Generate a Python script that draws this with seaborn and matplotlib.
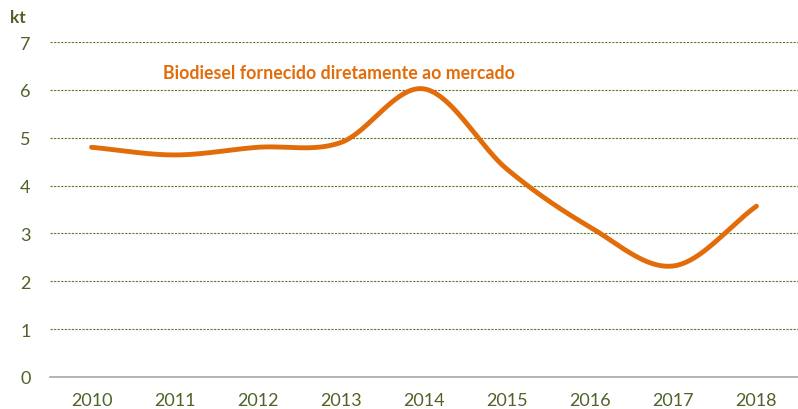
import numpy as np
import pandas as pd
import matplotlib
matplotlib.use("Agg")
import matplotlib.pyplot as plt
import seaborn as sns

years = ["2010", "2011", "2012", "2013", "2014", "2015", "2016", "2017", "2018"]
values = [4.80, 4.64, 4.80, 4.90, 6.02, 4.34, 3.13, 2.32, 3.57]
series_label = "Biodiesel fornecido diretamente ao mercado"
y_ticks = [0, 1, 2, 3, 4, 5, 6, 7]
unit = "kt"

ORANGE = "#E36C0A"
GREEN = "#4F6228"
GRID = "#5E7A2E"
AXIS = "#A6A6A6"

sns.set_theme(style="white")
plt.rcParams["font.family"] = ["Lato", "DejaVu Sans"]

def catmull_rom(xs, ys, n=40):
    xs = np.asarray(xs, float); ys = np.asarray(ys, float)
    px = np.concatenate([[2*xs[0]-xs[1]], xs, [2*xs[-1]-xs[-2]]])
    py = np.concatenate([[2*ys[0]-ys[1]], ys, [2*ys[-1]-ys[-2]]])
    ox, oy = [], []
    for i in range(1, len(px)-2):
        t = np.linspace(0, 1, n, endpoint=(i == len(px)-3))
        for P, out in ((px, ox), (py, oy)):
            p0, p1, p2, p3 = P[i-1], P[i], P[i+1], P[i+2]
            out.extend(0.5*((2*p1) + (-p0+p2)*t + (2*p0-5*p1+4*p2-p3)*t**2 + (-p0+3*p1-3*p2+p3)*t**3))
    return np.array(ox), np.array(oy)

xpos = np.arange(len(years))
sx, sy = catmull_rom(xpos, values)
df = pd.DataFrame({"x": sx, "y": sy})

fig = plt.figure(figsize=(7.98, 4.10), dpi=100)
ax = fig.add_axes([50/798, 32/410, 748/798, 335/410])

sns.lineplot(data=df, x="x", y="y", ax=ax, color=ORANGE, linewidth=3.5, sort=False,
             solid_capstyle="round")

ax.set_ylim(0, 7)
ax.set_xlim(-0.5, -0.5 + 748/84)
ax.set_yticks(y_ticks)
ax.set_yticklabels([str(v) for v in y_ticks], color=GREEN, fontsize=13)
ax.tick_params(axis="y", length=0, pad=14)
for v in y_ticks[1:]:
    ax.axhline(v, color=GRID, linestyle=(0, (2, 1.2)), linewidth=0.8, zorder=0)

ax.set_xticks(np.arange(-0.5, len(years), 1))
ax.set_xticklabels([])
ax.set_xticks(xpos, minor=True)
ax.set_xticklabels(years, minor=True, color=GREEN, fontsize=13)
ax.tick_params(axis="x", which="major", length=5, width=1.2, color=AXIS, direction="out")
ax.tick_params(axis="x", which="minor", length=0, pad=11)

for s in ["top", "right", "left"]:
    ax.spines[s].set_visible(False)
ax.spines["bottom"].set_color(AXIS)
ax.spines["bottom"].set_linewidth(1.2)
ax.set_xlabel(""); ax.set_ylabel("")

fig.text(10/798, 1 - 18/410, unit, color=GREEN, fontsize=12.5, fontweight="bold", va="center", ha="left")
ax.text(164/84 - 50/84 - 0.5, (378-73)/47.86, series_label, color=ORANGE, fontsize=12.8,
        fontweight="bold", ha="left", va="center")

fig.savefig("out.png", dpi=100)
